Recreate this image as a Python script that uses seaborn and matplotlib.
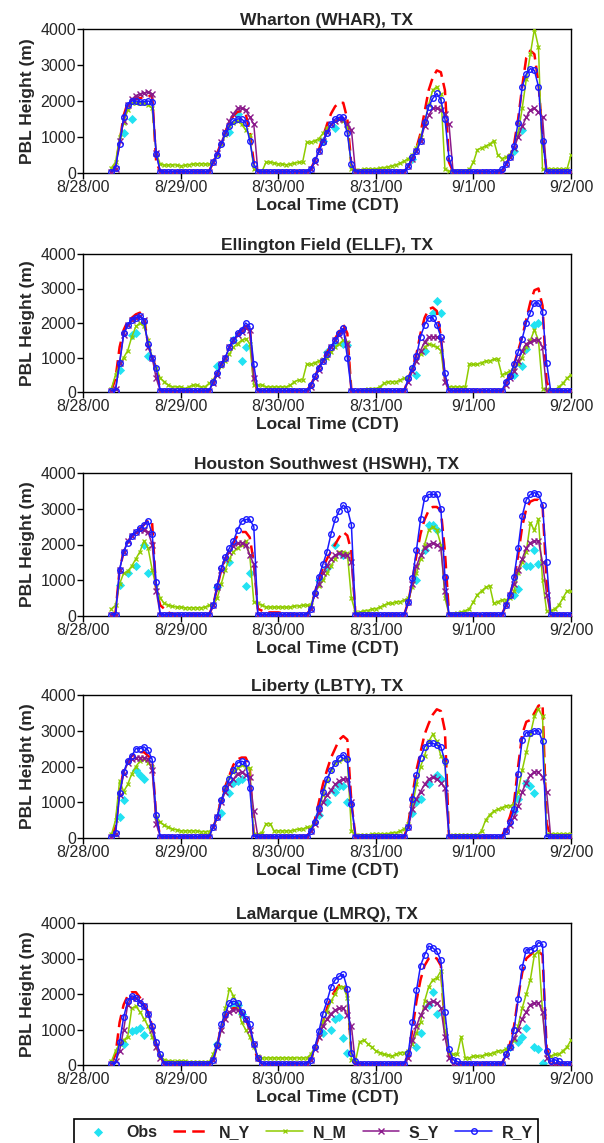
import matplotlib
matplotlib.use("Agg")
import matplotlib.pyplot as plt
import seaborn as sns

# hourly model output, 8/28/00 07:00 CDT through 9/2/00 00:00 (hours since 8/28 00:00)
hours = list(range(7, 121))
day_ticks = [0, 24, 48, 72, 96, 120]
day_labels = ["8/28/00", "8/29/00", "8/30/00", "8/31/00", "9/1/00", "9/2/00"]

# ---- Wharton (WHAR) ----
whar_ny = [40, 200, 850, 1600, 1950, 2050, 2050, 2080, 2100, 2130, 2150, 300, 40, 40, 40, 40, 40,
           40, 40, 40, 40, 40, 40, 40, 40, 300, 550, 850, 1150, 1400, 1600, 1700, 1720, 1650, 1150, 300, 40, 40, 40, 40, 40,
           40, 40, 40, 40, 40, 40, 40, 40, 100, 350, 650, 1000, 1350, 1650, 1850, 1950, 1950, 1500, 200, 40, 40, 40, 40, 40,
           40, 40, 40, 40, 40, 40, 40, 40, 200, 400, 700, 1100, 1700, 2300, 2650, 2850, 2800, 2300, 300, 40, 40, 40, 40, 40,
           40, 40, 40, 40, 40, 40, 40, 40, 250, 450, 800, 1500, 2400, 3200, 3400, 3300, 2500, 1000, 40, 40, 40, 40, 40, 40, 40]
whar_nm = [150, 300, 1000, 1400, 1750, 1950, 1950, 1950, 1950, 1900, 1800, 550, 250, 220, 220, 230, 220,
           200, 210, 230, 250, 250, 260, 250, 250, 300, 500, 800, 1050, 1300, 1400, 1450, 1350, 1200, 1050, 100, 40, 40, 300, 300, 280,
           250, 250, 230, 250, 270, 300, 300, 850, 850, 900, 950, 1100, 1250, 1350, 1450, 1500, 1450, 1300, 100, 80, 80, 100, 100, 100,
           120, 130, 150, 170, 200, 230, 270, 330, 400, 500, 700, 1000, 1400, 1900, 2300, 2400, 2200, 100, 50, 50, 50, 50, 50, 100,
           300, 650, 700, 750, 800, 900, 500, 400, 450, 500, 700, 1100, 1800, 2600, 3300, 4000, 3500, 100, 100, 100, 100, 100, 100, 100, 500]
whar_sy = [40, 100, 900, 1450, 1900, 2050, 2150, 2200, 2220, 2250, 2200, 550, 40, 40, 40, 40, 40,
           40, 40, 40, 40, 40, 40, 40, 40, 300, 550, 850, 1150, 1450, 1650, 1800, 1800, 1750, 1550, 1350, 40, 40, 40, 40, 40,
           40, 40, 40, 40, 40, 40, 40, 40, 100, 300, 600, 900, 1150, 1350, 1450, 1500, 1500, 1350, 1200, 40, 40, 40, 40, 40,
           40, 40, 40, 40, 40, 40, 40, 40, 200, 400, 600, 900, 1300, 1600, 1800, 1800, 1750, 1650, 1350, 40, 40, 40, 40, 40,
           40, 40, 40, 40, 40, 40, 40, 40, 250, 450, 700, 1000, 1300, 1550, 1750, 1800, 1700, 1550, 40, 40, 40, 40, 40, 40, 40]
whar_ry = [40, 150, 800, 1550, 1900, 2000, 2000, 1980, 1980, 2000, 1970, 520, 40, 40, 40, 40, 40,
           40, 40, 40, 40, 40, 40, 40, 40, 300, 500, 800, 1100, 1300, 1450, 1500, 1500, 1400, 900, 250, 40, 40, 40, 40, 40,
           40, 40, 40, 40, 40, 40, 40, 40, 100, 350, 600, 850, 1100, 1350, 1500, 1550, 1550, 1100, 250, 40, 40, 40, 40, 40,
           40, 40, 40, 40, 40, 40, 40, 40, 200, 450, 600, 900, 1420, 1840, 2070, 2210, 2030, 1500, 420, 40, 40, 40, 40, 40,
           40, 40, 40, 40, 40, 40, 40, 100, 250, 450, 750, 1400, 2400, 2750, 2900, 2850, 2400, 900, 40, 40, 40, 40, 40, 40, 40]
whar_obs_h = [10, 12, 36, 38, 59, 62, 81, 106, 108]
whar_obs_v = [1100, 1500, 1150, 1650, 900, 1250, 400, 600, 1200]

# ---- Ellington Field (ELLF) ----
ellf_ny = [40, 400, 1300, 1800, 2050, 2150, 2250, 2300, 2150, 1400, 1000, 700, 40, 40, 40, 40, 40,
           40, 40, 40, 40, 40, 40, 40, 40, 300, 550, 800, 1000, 1300, 1500, 1700, 1800, 1900, 1950, 300, 40, 40, 40, 40, 40,
           40, 40, 40, 40, 40, 40, 40, 40, 200, 450, 700, 950, 1150, 1350, 1550, 1750, 1950, 1700, 40, 40, 40, 40, 40, 40,
           40, 40, 40, 40, 40, 40, 40, 40, 400, 700, 1100, 1700, 2150, 2400, 2450, 2350, 1600, 400, 40, 40, 40, 40, 40, 40,
           40, 40, 40, 40, 40, 40, 40, 40, 300, 500, 800, 1200, 1600, 2100, 2600, 2950, 3000, 2500, 300, 40, 40, 40, 40, 40, 40]
ellf_nm = [100, 500, 800, 1000, 1200, 1600, 1900, 2000, 1900, 1500, 1000, 700, 400, 300, 200, 150, 150,
           150, 100, 150, 200, 200, 150, 150, 250, 350, 500, 750, 900, 1100, 1300, 1400, 1500, 1550, 1400, 200, 200, 200, 150, 150, 150,
           150, 150, 150, 200, 300, 350, 350, 800, 800, 850, 900, 950, 1000, 1150, 1300, 1400, 1500, 1450, 40, 40, 40, 60, 80, 100,
           100, 150, 250, 300, 300, 300, 350, 400, 400, 700, 900, 1100, 1300, 1400, 1350, 1300, 1200, 300, 150, 150, 150, 150, 150, 800,
           800, 800, 850, 900, 900, 950, 950, 500, 550, 600, 700, 800, 1000, 1300, 1500, 1800, 1500, 100, 100, 50, 50, 150, 250, 400, 500]
ellf_sy = [40, 100, 850, 1650, 1950, 2100, 2150, 2200, 2100, 1300, 1000, 400, 40, 40, 40, 40, 40,
           40, 40, 40, 40, 40, 40, 40, 40, 250, 500, 800, 1000, 1300, 1500, 1650, 1750, 1850, 1800, 400, 40, 40, 40, 40, 40,
           40, 40, 40, 40, 40, 40, 40, 40, 150, 400, 650, 900, 1100, 1300, 1500, 1650, 1800, 1400, 40, 40, 40, 40, 40, 40,
           40, 40, 40, 40, 40, 40, 40, 40, 300, 600, 900, 1200, 1450, 1600, 1600, 1600, 1550, 300, 40, 40, 40, 40, 40, 40,
           40, 40, 40, 40, 40, 40, 40, 40, 200, 400, 600, 900, 1200, 1400, 1450, 1500, 1500, 1300, 40, 40, 40, 40, 40, 40, 40]
ellf_ry = [40, 40, 850, 1700, 1950, 2100, 2150, 2200, 2050, 1400, 1000, 700, 40, 40, 40, 40, 40,
           40, 40, 40, 40, 40, 40, 40, 40, 300, 550, 800, 1000, 1300, 1500, 1700, 1800, 2000, 1900, 800, 40, 40, 40, 40, 40,
           40, 40, 40, 40, 40, 40, 40, 40, 200, 450, 700, 900, 1100, 1300, 1500, 1700, 1850, 1000, 40, 40, 40, 40, 40, 40,
           40, 40, 40, 40, 40, 40, 40, 40, 400, 700, 1050, 1600, 1950, 2150, 2150, 1950, 1600, 550, 40, 40, 40, 40, 40, 40,
           40, 40, 40, 40, 40, 40, 40, 40, 300, 450, 800, 1150, 1550, 2000, 2300, 2580, 2580, 2330, 850, 40, 40, 40, 40, 40, 40]
ellf_obs_h = [9, 12, 13, 16, 33, 37, 39, 40, 60, 62, 64, 65, 82, 84, 86, 87, 88, 106, 108, 109, 111, 112]
ellf_obs_v = [650, 1650, 1700, 1050, 750, 1500, 900, 1300, 1150, 1400, 1400, 1350, 500, 1200, 2300, 2650, 2300,
              500, 750, 1250, 1950, 2000]

# ---- Houston Southwest (HSWH) ----
hswh_ny = [40, 100, 1300, 1800, 2050, 2250, 2350, 2450, 2550, 2700, 2600, 700, 300, 200, 100, 50, 40,
           40, 40, 40, 40, 40, 40, 40, 40, 300, 800, 1300, 1600, 1850, 2050, 2250, 2350, 2350, 2200, 1500, 200, 150, 100, 100, 100,
           100, 80, 60, 40, 40, 40, 40, 40, 200, 650, 1050, 1350, 1600, 1800, 2000, 2200, 2350, 2250, 1800, 40, 40, 40, 40, 40,
           40, 40, 40, 40, 40, 40, 40, 40, 400, 1000, 1700, 2300, 2700, 2950, 3050, 3050, 2950, 1800, 40, 40, 40, 40, 40, 40,
           40, 40, 40, 40, 40, 40, 40, 40, 300, 600, 1000, 1700, 2500, 3000, 3200, 3250, 3250, 3100, 1000, 40, 40, 40, 40, 40, 40]
hswh_nm = [200, 300, 900, 1200, 1250, 1400, 1600, 1800, 2100, 1900, 1300, 800, 500, 350, 300, 270, 250,
           250, 230, 230, 230, 230, 230, 250, 300, 300, 500, 900, 1300, 1600, 1800, 1900, 2000, 2100, 1700, 400, 350, 300, 250, 250, 250,
           250, 250, 250, 250, 280, 280, 300, 300, 300, 650, 850, 1000, 1200, 1400, 1600, 1800, 1800, 1750, 500, 100, 100, 150, 150, 200,
           200, 250, 300, 350, 350, 400, 400, 450, 500, 800, 1200, 1600, 2000, 2400, 2500, 2400, 2000, 500, 50, 50, 80, 100, 150, 200,
           400, 600, 700, 800, 850, 350, 400, 450, 450, 500, 700, 1200, 1500, 1800, 2600, 2400, 2700, 1000, 150, 150, 200, 300, 500, 700, 700]
hswh_sy = [40, 40, 1300, 1800, 2100, 2250, 2350, 2400, 2400, 2350, 2000, 700, 40, 40, 40, 40, 40,
           40, 40, 40, 40, 40, 40, 40, 40, 300, 800, 1300, 1600, 1800, 1950, 2050, 2050, 2000, 1700, 1450, 40, 40, 40, 40, 40,
           40, 40, 40, 40, 40, 40, 40, 40, 200, 600, 900, 1200, 1400, 1600, 1700, 1750, 1700, 1700, 1500, 40, 40, 40, 40, 40,
           40, 40, 40, 40, 40, 40, 40, 40, 400, 900, 1400, 1700, 1900, 2000, 2050, 2000, 1900, 700, 40, 40, 40, 40, 40, 40,
           40, 40, 40, 40, 40, 40, 40, 40, 300, 600, 900, 1300, 1600, 1900, 2050, 2100, 2100, 1500, 600, 40, 40, 40, 40, 40, 40]
hswh_ry = [40, 40, 1300, 1800, 2050, 2250, 2350, 2450, 2550, 2650, 2300, 950, 40, 40, 40, 40, 40,
           40, 40, 40, 40, 40, 40, 40, 40, 300, 850, 1350, 1650, 1900, 2100, 2400, 2650, 2700, 2700, 2500, 40, 40, 40, 40, 40,
           40, 40, 40, 40, 40, 40, 40, 40, 200, 650, 1100, 1450, 1800, 2300, 2700, 2950, 3100, 3000, 2550, 40, 40, 40, 40, 40,
           40, 40, 40, 40, 40, 40, 40, 40, 400, 1050, 1850, 2700, 3300, 3400, 3400, 3400, 3000, 1100, 40, 40, 40, 40, 40, 40,
           40, 40, 40, 40, 40, 40, 40, 40, 300, 600, 1100, 1900, 2800, 3250, 3400, 3450, 3400, 3100, 1500, 40, 40, 40, 40, 40, 40]
hswh_obs_h = [9, 11, 13, 15, 16, 33, 36, 40, 41, 58, 60, 62, 64, 82, 84, 85, 86, 87, 106, 107, 109, 110, 111, 112]
hswh_obs_v = [870, 1200, 1400, 2000, 1200, 800, 1500, 850, 1200, 1000, 1350, 2000, 1700, 1000, 1850, 2550, 2550, 2400,
              600, 750, 1400, 1400, 1850, 1450]

# ---- Liberty (LBTY) ----
lbty_ny = [40, 300, 1300, 1900, 2150, 2300, 2350, 2400, 2400, 2300, 2200, 600, 40, 40, 40, 40, 40,
           40, 40, 40, 40, 40, 40, 40, 40, 300, 600, 1100, 1450, 1750, 2050, 2200, 2250, 2250, 2000, 40, 40, 40, 40, 40, 40,
           40, 40, 40, 40, 40, 40, 40, 40, 200, 500, 1000, 1500, 1900, 2250, 2500, 2750, 2850, 2750, 1000, 40, 40, 40, 40, 40,
           40, 40, 40, 40, 40, 40, 40, 40, 400, 1200, 1900, 2400, 2900, 3200, 3450, 3600, 3550, 3000, 40, 40, 40, 40, 40, 40,
           40, 40, 40, 40, 40, 40, 40, 40, 300, 600, 1000, 2000, 2900, 3250, 3300, 3500, 3700, 3750, 400, 40, 40, 40, 40, 40, 40]
lbty_nm = [100, 500, 1600, 1300, 1500, 1800, 2000, 2150, 2200, 2100, 2000, 600, 450, 350, 300, 250, 230,
           200, 200, 200, 200, 200, 180, 180, 180, 300, 600, 1050, 1400, 1700, 1850, 1950, 2050, 2000, 1950, 100, 100, 150, 400, 400, 200,
           200, 200, 200, 200, 220, 250, 250, 300, 300, 450, 800, 1200, 1600, 1900, 2100, 2150, 2200, 2200, 200, 80, 80, 80, 80, 100,
           100, 100, 100, 120, 150, 150, 200, 250, 400, 900, 1500, 2000, 2300, 2700, 2900, 2700, 2300, 2100, 50, 80, 80, 80, 80, 80,
           80, 80, 200, 500, 650, 750, 800, 850, 900, 900, 950, 1300, 1900, 2400, 2900, 3400, 3600, 3400, 100, 100, 100, 100, 100, 100, 100]
lbty_sy = [40, 100, 1200, 1800, 2100, 2200, 2250, 2250, 2250, 2200, 1900, 400, 40, 40, 40, 40, 40,
           40, 40, 40, 40, 40, 40, 40, 40, 300, 600, 1000, 1300, 1500, 1650, 1800, 1850, 1750, 1700, 750, 40, 40, 40, 40, 40,
           40, 40, 40, 40, 40, 40, 40, 40, 200, 400, 700, 1000, 1200, 1350, 1500, 1600, 1650, 1650, 1000, 40, 40, 40, 40, 40,
           40, 40, 40, 40, 40, 40, 40, 40, 300, 800, 1100, 1300, 1500, 1650, 1700, 1650, 1550, 1400, 40, 40, 40, 40, 40, 40,
           40, 40, 40, 40, 40, 40, 40, 40, 200, 350, 600, 900, 1300, 1550, 1750, 1850, 1850, 1700, 1300, 40, 40, 40, 40, 40, 40]
lbty_ry = [40, 150, 1250, 1850, 2150, 2300, 2500, 2500, 2550, 2450, 2200, 650, 40, 40, 40, 40, 40,
           40, 40, 40, 40, 40, 40, 40, 40, 300, 600, 1050, 1400, 1650, 1900, 2100, 2150, 2100, 1400, 40, 40, 40, 40, 40, 40,
           40, 40, 40, 40, 40, 40, 40, 40, 200, 450, 850, 1300, 1650, 1900, 2100, 2250, 2330, 2200, 950, 40, 40, 40, 40, 40,
           40, 40, 40, 40, 40, 40, 40, 40, 300, 1100, 1750, 2250, 2550, 2650, 2650, 2600, 2550, 2150, 40, 40, 40, 40, 40, 40,
           40, 40, 40, 40, 40, 40, 40, 40, 200, 450, 800, 1800, 2750, 2950, 2950, 3000, 3000, 2700, 40, 40, 40, 40, 40, 40, 40]
lbty_obs_h = [9, 10, 13, 14, 15, 34, 36, 37, 38, 39, 58, 60, 62, 63, 64, 65, 81, 82, 83, 85, 87, 88, 106, 107, 109, 110, 111]
lbty_obs_v = [600, 1050, 1900, 1750, 1650, 700, 1250, 1550, 1600, 1650, 650, 1000, 1300, 1450, 1450, 1000,
              700, 1000, 1100, 1500, 1750, 1650, 750, 1100, 1550, 1450, 1250]

# ---- LaMarque (LMRQ) ----
lmrq_ny = [40, 300, 1200, 1700, 1950, 2050, 2050, 1900, 1700, 1500, 1100, 600, 250, 40, 40, 40, 40,
           40, 40, 40, 40, 40, 40, 40, 40, 150, 550, 1100, 1400, 1550, 1600, 1600, 1500, 1300, 1000, 500, 150, 40, 40, 40, 40,
           40, 40, 40, 40, 40, 40, 40, 40, 150, 450, 800, 1200, 1600, 1900, 2100, 2250, 2300, 2000, 300, 40, 40, 40, 40, 40,
           40, 40, 40, 40, 40, 40, 40, 40, 300, 1000, 1800, 2400, 2800, 3000, 3050, 3000, 2800, 1000, 300, 100, 40, 40, 40, 40,
           40, 40, 40, 40, 40, 40, 40, 40, 300, 600, 1100, 1900, 2600, 3000, 3100, 3200, 3200, 3100, 500, 100, 40, 40, 40, 40, 40]
lmrq_nm = [100, 400, 600, 700, 800, 1600, 1650, 1500, 1300, 1100, 800, 500, 250, 150, 120, 100, 100,
           100, 100, 80, 80, 80, 80, 80, 80, 300, 600, 1000, 1600, 2150, 1950, 1700, 1200, 1000, 800, 500, 250, 200, 200, 200, 200,
           200, 200, 200, 200, 200, 200, 200, 200, 300, 500, 800, 1200, 1500, 1800, 2000, 2200, 2200, 1900, 150, 100, 650, 700, 600, 500,
           400, 350, 300, 280, 250, 300, 350, 350, 400, 600, 900, 1200, 1800, 2200, 2400, 2450, 2650, 1000, 300, 300, 300, 800, 200, 200,
           250, 250, 250, 300, 300, 350, 400, 400, 450, 500, 700, 1100, 1600, 2000, 2400, 3100, 3200, 1500, 300, 250, 300, 300, 400, 500, 700]
lmrq_sy = [40, 100, 400, 1000, 1700, 1900, 1900, 1800, 1650, 1450, 1000, 500, 200, 40, 40, 40, 40,
           40, 40, 40, 40, 40, 40, 40, 40, 150, 500, 1000, 1300, 1500, 1550, 1550, 1450, 1300, 1000, 600, 200, 40, 40, 40, 40,
           40, 40, 40, 40, 40, 40, 40, 40, 150, 450, 800, 1100, 1300, 1450, 1550, 1600, 1600, 1400, 1100, 40, 40, 40, 40, 40,
           40, 40, 40, 40, 40, 40, 40, 40, 200, 700, 1100, 1400, 1600, 1750, 1800, 1750, 1600, 800, 200, 40, 40, 40, 40, 40,
           40, 40, 40, 40, 40, 40, 40, 40, 250, 500, 750, 1000, 1300, 1500, 1700, 1750, 1750, 1500, 200, 40, 40, 40, 40, 40, 40]
lmrq_ry = [40, 40, 650, 1350, 1800, 1950, 1900, 1750, 1650, 1450, 1100, 650, 300, 40, 40, 40, 40,
           40, 40, 40, 40, 40, 40, 40, 40, 150, 550, 1150, 1450, 1750, 1800, 1750, 1500, 1300, 1150, 600, 200, 40, 40, 40, 40,
           40, 40, 40, 40, 40, 40, 40, 40, 150, 500, 950, 1450, 1800, 2200, 2400, 2500, 2550, 2150, 350, 100, 40, 40, 40, 40,
           40, 40, 40, 40, 40, 40, 40, 40, 350, 1200, 2100, 2800, 3100, 3350, 3300, 3200, 2950, 1500, 450, 150, 100, 40, 40, 40,
           40, 40, 40, 40, 40, 40, 40, 40, 300, 500, 1000, 1850, 2750, 3250, 3250, 3300, 3450, 3400, 400, 100, 150, 100, 40, 40, 40]
lmrq_obs_h = [10, 12, 13, 14, 15, 33, 37, 38, 39, 59, 61, 62, 63, 64, 65, 82, 83, 85, 86, 87,
              105, 107, 108, 109, 111, 112, 113]
lmrq_obs_v = [600, 950, 1000, 1050, 850, 600, 1650, 1700, 1450, 900, 1000, 1300, 1350, 750, 350, 500, 900, 1700, 2050, 1450,
              500, 650, 800, 1050, 500, 450, 50]

stations = [
    ("Wharton (WHAR), TX", whar_ny, whar_nm, whar_sy, whar_ry, whar_obs_h, whar_obs_v),
    ("Ellington Field (ELLF), TX", ellf_ny, ellf_nm, ellf_sy, ellf_ry, ellf_obs_h, ellf_obs_v),
    ("Houston Southwest (HSWH), TX", hswh_ny, hswh_nm, hswh_sy, hswh_ry, hswh_obs_h, hswh_obs_v),
    ("Liberty (LBTY), TX", lbty_ny, lbty_nm, lbty_sy, lbty_ry, lbty_obs_h, lbty_obs_v),
    ("LaMarque (LMRQ), TX", lmrq_ny, lmrq_nm, lmrq_sy, lmrq_ry, lmrq_obs_h, lmrq_obs_v),
]

sns.set_theme(style="ticks")
plt.rcParams["font.family"] = ["Liberation Sans", "DejaVu Sans"]

W, H = 604, 1143
fig = plt.figure(figsize=(W / 100, H / 100), dpi=100)

# axes boxes in pixels (top, bottom)
boxes = [(29, 173), (254, 392), (473, 616), (695, 838), (923, 1065)]
left, right = 83, 571

c_obs, c_ny, c_nm, c_sy, c_ry = "#22e2f2", "#ff0000", "#8fcc00", "#8b1a8b", "#1a1aff"

for (top, bot), (title, ny, nm, sy, ry, oh, ov) in zip(boxes, stations):
    ax = fig.add_axes([left / W, 1 - bot / H, (right - left) / W, (bot - top) / H])
    sns.scatterplot(x=oh, y=ov, ax=ax, marker="D", color=c_obs, s=22, linewidth=0,
                    label="Obs", zorder=2)
    sns.lineplot(x=hours, y=ny, ax=ax, color=c_ny, lw=1.8, linestyle=(0, (5, 2.5)),
                 label="N_Y", zorder=3)
    sns.lineplot(x=hours, y=nm, ax=ax, color=c_nm, lw=1.1, marker="x", markersize=3.5,
                 markeredgecolor=c_nm, markeredgewidth=0.9, label="N_M", zorder=3)
    sns.lineplot(x=hours, y=sy, ax=ax, color=c_sy, lw=1.1, marker="x", markersize=4,
                 markeredgecolor=c_sy, markeredgewidth=1.0, label="S_Y", zorder=4)
    sns.lineplot(x=hours, y=ry, ax=ax, color=c_ry, lw=1.1, marker="o", markersize=4,
                 markerfacecolor="none", markeredgecolor=c_ry, markeredgewidth=1.0,
                 label="R_Y", zorder=5)
    handles, labels = ax.get_legend_handles_labels()
    if ax.get_legend() is not None:
        ax.get_legend().remove()

    ax.set_xlim(0, 120)
    ax.set_ylim(0, 4000)
    ax.set_xticks(day_ticks)
    ax.set_xticklabels(day_labels)
    ax.set_yticks([0, 1000, 2000, 3000, 4000])
    ax.tick_params(direction="out", length=4, width=1, labelsize=11.5, pad=1, color="black")
    for s in ax.spines.values():
        s.set_visible(True)
        s.set_color("black")
        s.set_linewidth(1.0)
    ax.set_title(title, fontsize=12.5, fontweight="bold", pad=3)
    ax.set_ylabel("PBL Height (m)", fontsize=12.5, fontweight="bold", labelpad=4)
    ax.set_xlabel("Local Time (CDT)", fontsize=12.5, fontweight="bold", labelpad=2)

# legend box sits at the very bottom, its lower edge running off the figure
leg = fig.legend(handles, labels, loc="upper left", bbox_to_anchor=(74 / W, 1 - 1119 / H),
                 borderaxespad=0, ncol=5, frameon=True, fancybox=False, edgecolor="black",
                 framealpha=1, handlelength=2.3, handletextpad=0.6, columnspacing=1.0,
                 borderpad=0.35, prop={"weight": "bold", "size": 11.5})
leg.get_frame().set_linewidth(1.2)

fig.savefig("out.png", dpi=100)
